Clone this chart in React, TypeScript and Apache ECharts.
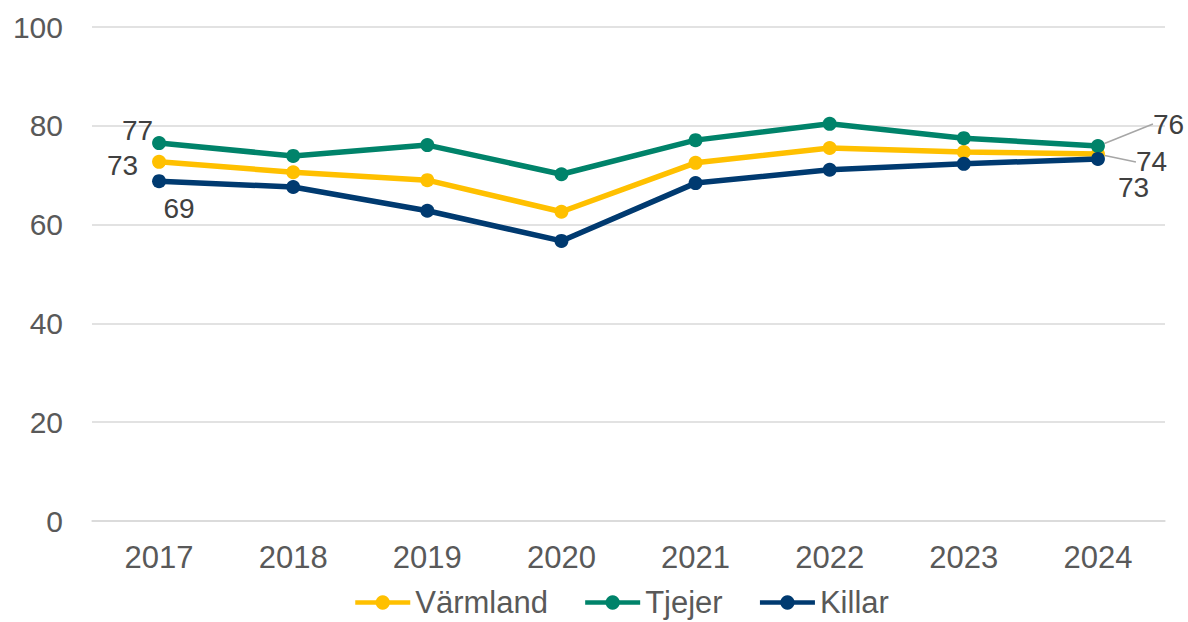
import React, { useEffect, useRef } from "react";
import * as echarts from "echarts";

const years = ["2017", "2018", "2019", "2020", "2021", "2022", "2023", "2024"];
const varmland = [72.7, 70.6, 69.0, 62.6, 72.5, 75.5, 74.7, 74.3];
const tjejer = [76.5, 73.9, 76.1, 70.2, 77.1, 80.4, 77.5, 75.9];
const killar = [68.8, 67.6, 62.8, 56.7, 68.4, 71.1, 72.3, 73.3];

const FONT = "'Liberation Sans', Arial, sans-serif";
const LABEL_COLOR = "#404040";

// label shifts (style only): [series][first, last]
const firstPos = ["left", "left", "bottom"];
const firstShift = [
  { dx: -9, dy: 4 },
  { dx: 6, dy: -13 },
  { dx: 20, dy: 1 },
];
const lastShift = [
  { dx: 26, dy: 8 },
  { dx: 43, dy: -22 },
  { dx: 8, dy: 29 },
];
const lastLeader = [true, true, false];

function buildData(values: number[], s: number) {
  return values.map((v, i) => {
    if (i === 0) {
      return {
        value: v,
        label: { show: true, position: firstPos[s] },
        labelLine: { show: false },
      };
    }
    if (i === values.length - 1) {
      return {
        value: v,
        label: { show: true, position: "right" },
        labelLine: { show: lastLeader[s] },
      };
    }
    return { value: v };
  });
}

export default function App() {
  const ref = useRef<HTMLDivElement>(null);
  useEffect(() => {
    if (!ref.current) return;
    const chart = echarts.init(ref.current, undefined, { renderer: "svg" });
    const mkSeries = (name: string, color: string, values: number[], s: number) => ({
      name,
      type: "line",
      data: buildData(values, s),
      symbol: "circle",
      symbolSize: 14,
      lineStyle: { width: 5.5, color },
      itemStyle: { color },
      label: {
        show: false,
        fontFamily: FONT,
        fontSize: 28,
        color: LABEL_COLOR,
        formatter: (p: any) => String(Math.round(p.value)),
      },
      labelLine: { show: false, lineStyle: { color: "#A6A6A6", width: 1.5 } },
      labelLayout: (p: any) => {
        if (p.dataIndex === 0) return firstShift[p.seriesIndex];
        if (p.dataIndex === values.length - 1) return lastShift[p.seriesIndex];
        return {};
      },
    });
    chart.setOption({
      animation: false,
      backgroundColor: "#ffffff",
      textStyle: { fontFamily: FONT },
      grid: { left: 92, right: 23, top: 27, bottom: 101 },
      legend: {
        top: 587,
        left: 353,
        padding: 0,
        itemWidth: 55,
        itemHeight: 18,
        itemGap: 35,
        lineStyle: { width: 4.5 },
        textStyle: { fontFamily: FONT, fontSize: 31, color: "#595959", padding: [0, 0, 0, 0] },
        data: ["Värmland", "Tjejer", "Killar"],
      },
      xAxis: {
        type: "category",
        data: years,
        boundaryGap: true,
        axisLine: { show: true, lineStyle: { color: "#D9D9D9", width: 1.5 } },
        axisTick: { show: false },
        axisLabel: { fontFamily: FONT, fontSize: 31, color: "#595959", margin: 21 },
      },
      yAxis: {
        type: "value",
        min: 0,
        max: 100,
        interval: 20,
        axisLine: { show: false },
        axisTick: { show: false },
        splitLine: { lineStyle: { color: "#D9D9D9", width: 1.5 } },
        axisLabel: { fontFamily: FONT, fontSize: 30, color: "#595959", margin: 29 },
      },
      series: [
        mkSeries("Värmland", "#FFC000", varmland, 0),
        mkSeries("Tjejer", "#00836A", tjejer, 1),
        mkSeries("Killar", "#003A70", killar, 2),
      ],
    });
    return () => chart.dispose();
  }, []);
  return (
    <div
      ref={ref}
      style={{ position: "fixed", left: 0, top: 0, width: 1188, height: 622 }}
    />
  );
}
